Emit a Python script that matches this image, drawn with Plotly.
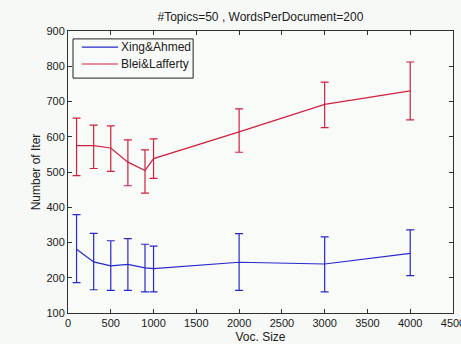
import plotly.graph_objects as go

# Vocabulary sizes evaluated
voc_size = [100, 300, 500, 700, 900, 1000, 2000, 3000, 4000]

# Xing&Ahmed: mean iterations with upper / lower error limits
xing_mean = [281, 245, 234, 238, 228, 226, 244, 239, 269]
xing_upper = [379, 326, 305, 311, 295, 290, 325, 316, 336]
xing_lower = [186, 166, 164, 164, 160, 160, 164, 160, 206]

# Blei&Lafferty: mean iterations with upper / lower error limits
blei_mean = [575, 575, 568, 528, 504, 538, 614, 692, 730]
blei_upper = [653, 633, 631, 591, 563, 594, 679, 755, 812]
blei_lower = [490, 510, 502, 461, 440, 482, 556, 626, 648]

series_names = ["Xing&Ahmed", "Blei&Lafferty"]

x_ticks = [0, 500, 1000, 1500, 2000, 2500, 3000, 3500, 4000, 4500]
y_ticks = [100, 200, 300, 400, 500, 600, 700, 800, 900]

BLUE = "#2828cc"
RED = "#d02040"
FONT = "Liberation Sans, Arial, sans-serif"


def series(name, mean, upper, lower, color):
    return go.Scatter(
        x=voc_size,
        y=mean,
        name=name,
        mode="lines",
        line=dict(color=color, width=1.2),
        error_y=dict(
            type="data",
            symmetric=False,
            array=[u - m for u, m in zip(upper, mean)],
            arrayminus=[m - l for m, l in zip(mean, lower)],
            color=color,
            thickness=1.2,
            width=4,
        ),
    )


fig = go.Figure()
fig.add_trace(series(series_names[0], xing_mean, xing_upper, xing_lower, BLUE))
fig.add_trace(series(series_names[1], blei_mean, blei_upper, blei_lower, RED))

axis_common = dict(
    showgrid=False,
    zeroline=False,
    showline=True,
    linecolor="#303030",
    linewidth=1,
    mirror="ticks",
    ticks="inside",
    ticklen=4,
    tickcolor="#303030",
    ticklabeloverflow="allow",
    automargin=False,
    tickfont=dict(family=FONT, size=11, color="#202020"),
)

# Boxed legend in the upper-left corner of the axes
legend_shapes = [
    dict(type="rect", xref="paper", yref="paper",
         x0=0.013, x1=0.325, y0=0.833, y1=0.972,
         line=dict(color="#202020", width=1), fillcolor="#f9fbf9", layer="above"),
]
legend_notes = []
row_y = [0.943, 0.883]
for name, color, yy in zip(series_names, [BLUE, RED], row_y):
    legend_shapes.append(dict(type="line", xref="paper", yref="paper",
                              x0=0.036, x1=0.130, y0=yy, y1=yy,
                              line=dict(color=color, width=1.2), layer="above"))
    legend_notes.append(dict(xref="paper", yref="paper", x=0.133, y=yy,
                             xanchor="left", yanchor="middle", showarrow=False,
                             text=name, font=dict(family=FONT, size=12, color="#202020")))

fig.update_layout(
    width=461,
    height=344,
    margin=dict(l=68, r=8, t=31, b=31),
    paper_bgcolor="#f6f9f6",
    plot_bgcolor="#f9fbf9",
    font=dict(family=FONT, size=11, color="#202020"),
    title=dict(
        text="#Topics=50 , WordsPerDocument=200",
        x=0.565,
        xanchor="center",
        y=0.95,
        yanchor="middle",
        font=dict(size=12),
    ),
    xaxis=dict(
        range=[0, 4500],
        tickvals=x_ticks,
        title=dict(text="Voc. Size", standoff=5, font=dict(size=12)),
        **axis_common,
    ),
    yaxis=dict(
        range=[100, 900],
        tickvals=y_ticks,
        title=dict(text="Number of Iter", standoff=3, font=dict(size=12)),
        **axis_common,
    ),
    shapes=legend_shapes,
    annotations=legend_notes,
    showlegend=False,
)

fig.write_html("out.html")
